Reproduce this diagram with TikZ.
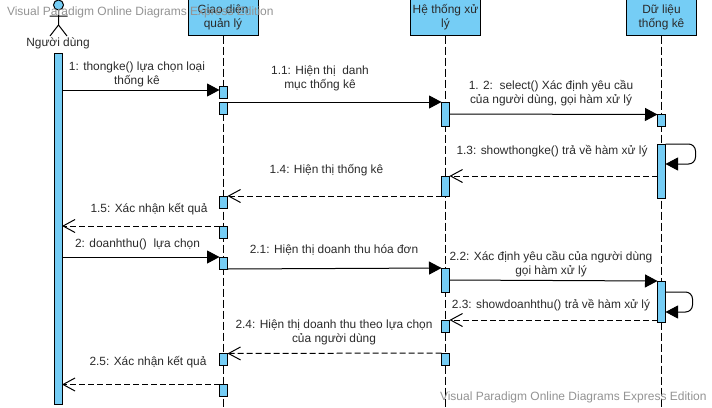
\documentclass[tikz,border=0pt]{standalone}
\usepackage{fontspec}
\setmainfont{Liberation Sans}
\usetikzlibrary{arrows.meta}
\definecolor{fillblue}{HTML}{75CDF5}
\definecolor{txt}{HTML}{2A2A2A}
\tikzset{
  every node/.style={inner sep=0pt,outer sep=0pt},
  headbox/.style={draw=black,line width=1pt,fill=fillblue,minimum width=70pt,minimum height=36pt,anchor=south},
  act/.style={draw=black,line width=1pt,fill=fillblue,minimum width=8pt},
  lifeline/.style={draw=black,line width=1pt,dash pattern=on 8pt off 3pt},
  msg/.style={draw=black,line width=1pt,-{Triangle[length=12.5pt,width=13pt,fill=black]}},
  ret/.style={draw=black,line width=1pt,dash pattern=on 6pt off 3pt,-{Straight Barb[length=12pt,width=13pt,line width=1pt]}},
  lbl/.style={font=\fontsize{11.9pt}{14pt}\selectfont,text=txt,align=center},
  wm/.style={font=\fontsize{12pt}{14pt}\selectfont,text=gray!85,anchor=west}
}
\begin{document}
\begin{tikzpicture}[x=1pt,y=-1pt]
\useasboundingbox (0,0) rectangle (712,407);
\coordinate (gend) at (223,407);
\coordinate (hend) at (445,407);
\coordinate (dend) at (661,407);
% headers
\node[headbox,lbl] (G) at (223,35.5) {\raisebox{4.5pt}{\parbox{70pt}{\centering Giao diện\\quản lý}}};
\node[headbox,lbl] (H) at (445.5,35.5) {\raisebox{4.5pt}{\parbox{70pt}{\centering Hệ thống xử\\lý}}};
\node[headbox,lbl] (D) at (661.5,35.5) {\raisebox{4.5pt}{\parbox{70pt}{\centering Dữ liệu\\thống kê}}};
\draw[lifeline] (G.south) -- (G.south |- gend);
\draw[lifeline] (H.south) -- (H.south |- hend);
\draw[lifeline] (D.south) -- (D.south |- dend);
% actor
\node[draw=black,line width=1pt,fill=fillblue,circle,minimum size=10pt] (head) at (58.5,5) {};
\coordinate (hip) at (58.5,25);
\coordinate (armL) at (49.5,16);
\coordinate (armR) at (67.5,16);
\coordinate (legL) at (50,36);
\coordinate (legR) at (67,36);
\draw[line width=1pt] (head.south) -- (hip) (armL) -- (armR) (legL) -- (hip) -- (legR);
\node[lbl] (ulabel) at (58,43) {Người dùng};
% activations
\node[act,minimum width=7.5pt,minimum height=351pt] (U) at (58.25,228.5) {};
\foreach \n/\yy/\hh in {g1/92/12,g2/108/12,g3/202/12,g4/232/12,g5/263/12,g6/359.5/12,g7/390.5/12}
  \node[act,minimum height=\hh pt] (\n) at (223.5,\yy) {};
\foreach \n/\yy/\hh in {h1/114/24,h2/186/20,h3/280/24,h4/326/12,h5/359/12}
  \node[act,minimum height=\hh pt] (\n) at (445.5,\yy) {};
\foreach \n/\yy/\hh in {d1/120.5/12,d2/171/54,d3/301.5/41}
  \node[act,minimum height=\hh pt] (\n) at (661.5,\yy) {};
% messages
\draw[msg] ([yshift=-4pt]U.east |- g1.north) -- ([yshift=-4pt]g1.north west);
\draw[msg] (g2.north east) -- (h1.north west);
\draw[msg] (h1.east) -- (d1.north west);
\draw[msg,rounded corners=7pt] (d2.north east) -- ++(30,0) -- ++(0,20) -- ++(-30,0);
\draw[ret] (d2.west |- h2.north) -- (h2.north east);
\draw[ret] (h2.south west) -- (g3.north east);
\draw[ret] (g4.north west) -- (U.east |- g4.north);
\draw[msg] (U.east |- g5.north) -- (g5.north west);
\draw[msg] (g5.south east) -- (h3.north west);
\draw[msg] (h3.east) -- (d3.north west);
\draw[msg,rounded corners=7pt] (d3.east |- h3.south) -- ++(27,0) -- ++(0,20) -- ++(-27,0);
\draw[ret] (d3.west |- h4.north) -- (h4.north east);
\draw[ret] (h5.north west) -- (g6.north east);
\draw[ret] (g7.north west) -- (U.east |- g7.north);
% labels
\node[lbl] (t1) at (137,74.5) {1: thongke() lựa chọn loại\\thống kê};
\node[lbl] (t11) at (320,78) {1.1: Hiện thị\ \ danh\\mục thống kê};
\node[lbl] (t12) at (551,93) {1. 2:\ \ select() Xác định yêu cầu\\của người dùng, gọi hàm xử lý};
\node[lbl] (t13) at (552,151) {1.3: showthongke() trả về hàm xử lý};
\node[lbl] (t14) at (326.5,170) {1.4: Hiện thị thống kê};
\node[lbl] (t15) at (149,209) {1.5: Xác nhận kết quả};
\node[lbl] (t2) at (137.5,244) {2: doanhthu()\ \ lựa chọn};
\node[lbl] (t21) at (334,250) {2.1: Hiện thị doanh thu hóa đơn};
\node[lbl] (t22) at (551,264) {2.2: Xác định yêu cầu của người dùng\\gọi hàm xử lý};
\node[lbl] (t23) at (551,305) {2.3: showdoanhthu() trả về hàm xử lý};
\node[lbl] (t24) at (334,332) {2.4: Hiện thị doanh thu theo lựa chọn\\của người dùng};
\node[lbl] (t25) at (148,362) {2.5: Xác nhận kết quả};
% watermarks
\node[wm] (w1) at (7,12) {Visual Paradigm Online Diagrams Express Edition};
\node[wm] (w2) at (440,397) {Visual Paradigm Online Diagrams Express Edition};
\end{tikzpicture}
\end{document}
